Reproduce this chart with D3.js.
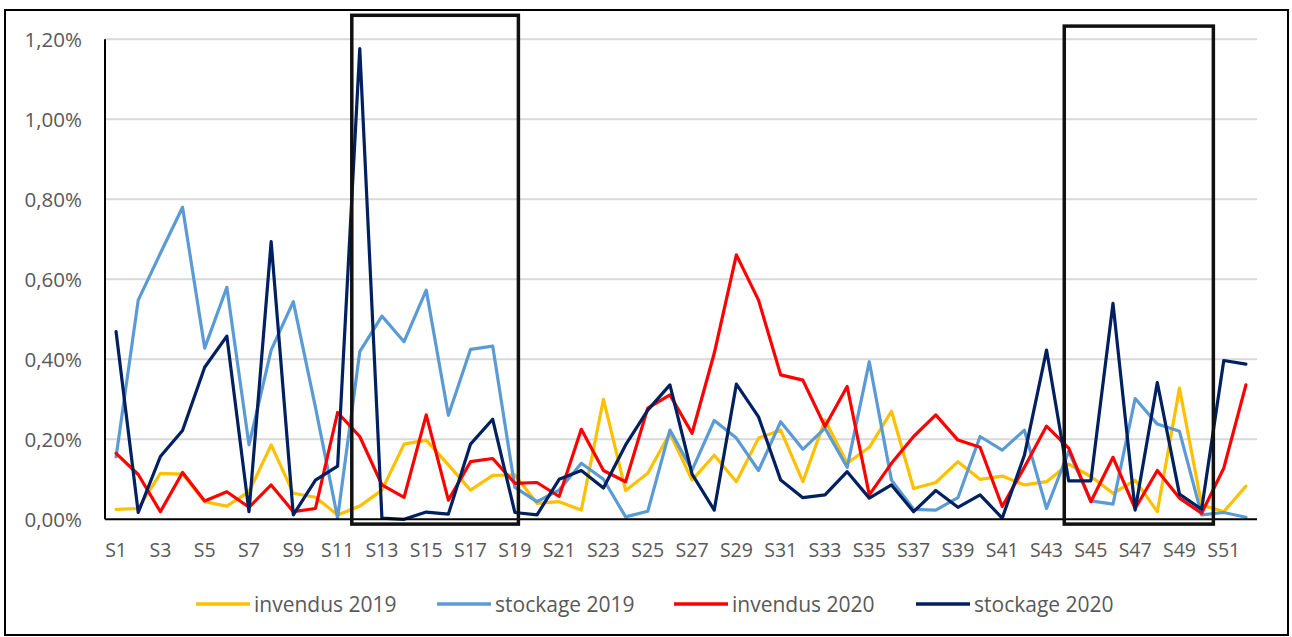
<!DOCTYPE html>
<html>
<head>
<meta charset="utf-8">
<script src="https://cdn.jsdelivr.net/npm/d3@7"></script>
<style>
  html, body { margin: 0; padding: 0; background: #fff; }
  svg { display: block; }
</style>
</head>
<body>
<div id="chart"></div>
<script>
// weeks S1..S52
const weeks = d3.range(1, 53).map(i => "S" + i);

// values in %
const invendus2019 = [0.025, 0.027, 0.115, 0.113, 0.044, 0.033, 0.069, 0.186, 0.065, 0.055,
  0.011, 0.033, 0.073, 0.188, 0.198, 0.136, 0.073, 0.110, 0.111, 0.040,
  0.044, 0.023, 0.300, 0.072, 0.115, 0.215, 0.098, 0.160, 0.094, 0.203,
  0.223, 0.094, 0.248, 0.140, 0.180, 0.270, 0.077, 0.092, 0.144, 0.100,
  0.108, 0.086, 0.094, 0.138, 0.107, 0.065, 0.098, 0.019, 0.328, 0.036,
  0.019, 0.083];

const stockage2019 = [0.156, 0.548, 0.665, 0.780, 0.428, 0.580, 0.186, 0.423, 0.544, 0.280,
  0.003, 0.419, 0.508, 0.444, 0.573, 0.260, 0.425, 0.433, 0.080, 0.044,
  0.073, 0.140, 0.100, 0.006, 0.020, 0.223, 0.123, 0.247, 0.203, 0.122,
  0.244, 0.175, 0.228, 0.130, 0.394, 0.098, 0.025, 0.023, 0.054, 0.207,
  0.173, 0.223, 0.027, 0.170, 0.046, 0.038, 0.302, 0.238, 0.220, 0.011,
  0.017, 0.005];

const invendus2020 = [0.165, 0.112, 0.019, 0.117, 0.046, 0.069, 0.030, 0.086, 0.019, 0.027,
  0.267, 0.207, 0.086, 0.055, 0.261, 0.048, 0.144, 0.152, 0.090, 0.092,
  0.057, 0.225, 0.122, 0.094, 0.278, 0.311, 0.215, 0.415, 0.661, 0.548,
  0.361, 0.348, 0.232, 0.332, 0.061, 0.140, 0.207, 0.261, 0.198, 0.180,
  0.032, 0.130, 0.233, 0.178, 0.044, 0.155, 0.027, 0.122, 0.053, 0.015,
  0.128, 0.336];

const stockage2020 = [0.469, 0.017, 0.157, 0.222, 0.380, 0.458, 0.019, 0.694, 0.011, 0.098,
  0.133, 1.177, 0.003, 0.000, 0.018, 0.013, 0.188, 0.250, 0.017, 0.011,
  0.100, 0.122, 0.078, 0.186, 0.273, 0.336, 0.113, 0.023, 0.338, 0.256,
  0.098, 0.054, 0.061, 0.119, 0.053, 0.086, 0.019, 0.072, 0.030, 0.061,
  0.003, 0.160, 0.423, 0.096, 0.096, 0.540, 0.023, 0.342, 0.063, 0.025,
  0.397, 0.388];

const seriesNames = ["invendus 2019", "stockage 2019", "invendus 2020", "stockage 2020"];
const seriesColors = ["#FFC000", "#5B9BD5", "#FF0000", "#002060"];
const yTicks = [0, 0.2, 0.4, 0.6, 0.8, 1.0, 1.2];
// highlighted week ranges (black boxes)
const highlights = [["S12", "S19"], ["S44", "S50"]];

const series = [invendus2019, stockage2019, invendus2020, stockage2020].map((vals, i) => ({
  name: seriesNames[i], color: seriesColors[i], values: vals
}));

/**************************************************************************************************/
const width = 1292, height = 637;
const margin = {top: 39.3, left: 105, right: 35, bottom: 117.7};
const font = "'Open Sans', 'Liberation Sans', sans-serif";

const x = d3.scalePoint(weeks, [margin.left, width - margin.right]).padding(0.5);
const step = x.step();
const y = d3.scaleLinear([0, 1.2], [height - margin.bottom, margin.top]);

const fr = d3.formatLocale({decimal: ",", thousands: " ", grouping: [3], currency: ["", "€"]});
const fmt = v => fr.format(".2f")(v) + "%";

const svg = d3.select("#chart").append("svg")
  .attr("width", width)
  .attr("height", height)
  .attr("viewBox", [0, 0, width, height])
  .attr("font-family", font);

svg.append("rect")
  .attr("width", width).attr("height", height).attr("fill", "#fff");

// gridlines
svg.append("g")
  .selectAll("line")
  .data(yTicks.slice(1))
  .join("line")
  .attr("x1", margin.left).attr("x2", width - margin.right)
  .attr("y1", d => y(d)).attr("y2", d => y(d))
  .attr("stroke", "#d9d9d9")
  .attr("stroke-width", 2);

// y labels
svg.append("g")
  .selectAll("text")
  .data(yTicks)
  .join("text")
  .attr("x", margin.left - 23)
  .attr("y", d => y(d))
  .attr("dy", "0.36em")
  .attr("text-anchor", "end")
  .attr("font-size", 20.5)
  .attr("fill", "#595959")
  .text(fmt);

// x labels (every other week)
svg.append("g")
  .selectAll("text")
  .data(weeks.filter((d, i) => i % 2 === 0))
  .join("text")
  .attr("x", d => x(d))
  .attr("y", y(0) + 31)
  .attr("dy", "0.36em")
  .attr("text-anchor", "middle")
  .attr("font-size", 19.5)
  .attr("fill", "#595959")
  .text(d => d);

// lines
const line = d3.line()
  .x((d, i) => x(weeks[i]))
  .y(d => y(d));

svg.append("g")
  .selectAll("path")
  .data(series)
  .join("path")
  .attr("fill", "none")
  .attr("stroke", d => d.color)
  .attr("stroke-width", 3.2)
  .attr("stroke-linejoin", "round")
  .attr("stroke-linecap", "round")
  .attr("d", d => line(d.values));

// axes lines
svg.append("line")
  .attr("x1", margin.left).attr("x2", width - margin.right)
  .attr("y1", y(0)).attr("y2", y(0))
  .attr("stroke", "#000").attr("stroke-width", 2);
svg.append("line")
  .attr("x1", margin.left).attr("x2", margin.left)
  .attr("y1", y(1.2)).attr("y2", y(0))
  .attr("stroke", "#000").attr("stroke-width", 2);

// highlight boxes
const boxPad = [[0.36, 0.16, 1.26], [0.2, 0.53, 1.233]];
svg.append("g")
  .selectAll("rect")
  .data(highlights)
  .join("rect")
  .attr("x", (d, i) => x(d[0]) - boxPad[i][0] * step)
  .attr("y", (d, i) => y(boxPad[i][2]))
  .attr("width", (d, i) => x(d[1]) + boxPad[i][1] * step - (x(d[0]) - boxPad[i][0] * step))
  .attr("height", (d, i) => y(-0.012) - y(boxPad[i][2]))
  .attr("fill", "none")
  .attr("stroke", "#111")
  .attr("stroke-width", 3.5);

// legend
const legendX = [196, 437, 674, 916];
const legend = svg.append("g")
  .selectAll("g")
  .data(series)
  .join("g")
  .attr("transform", (d, i) => `translate(${legendX[i]}, 604)`);
legend.append("line")
  .attr("x1", 0).attr("x2", 54)
  .attr("stroke", d => d.color)
  .attr("stroke-width", 3.5);
legend.append("text")
  .attr("x", 58)
  .attr("dy", "0.36em")
  .attr("font-size", 21)
  .attr("fill", "#595959")
  .text(d => d.name);

// outer border
svg.append("rect")
  .attr("x", 5).attr("y", 10)
  .attr("width", 1283).attr("height", 625)
  .attr("fill", "none")
  .attr("stroke", "#000")
  .attr("stroke-width", 2);
</script>
</body>
</html>
